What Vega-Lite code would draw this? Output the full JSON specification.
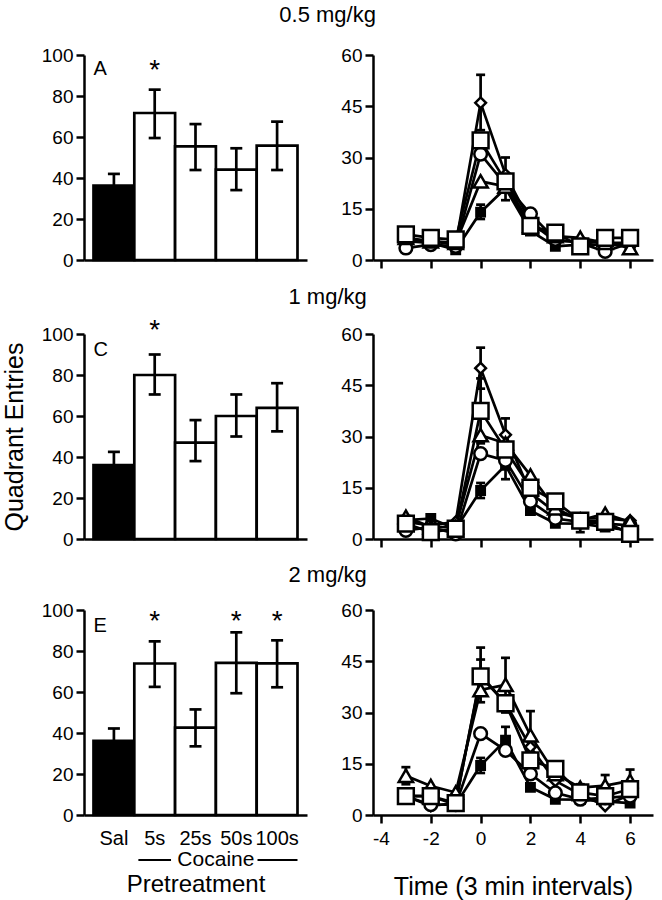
{
  "$schema": "https://vega.github.io/schema/vega-lite/v6.json",
  "padding": {"left": 2, "top": 4, "right": 5, "bottom": 2},
  "background": "white",
  "config": {
    "font": "Liberation Sans",
    "view": {"stroke": null},
    "title": {"fontSize": 22, "fontWeight": "normal", "anchor": "middle", "offset": 16, "color": "black"},
    "axis": {"domainColor": "black", "domainWidth": 2.5, "tickColor": "black", "tickWidth": 2.5, "tickSize": 8,
             "labelFontSize": 19, "labelColor": "black", "labelPadding": 3, "titleFontSize": 25, "titleFontWeight": "normal",
             "titleColor": "black", "grid": false}
  },
  "datasets": {
    "bars": [
      {"panel": "A", "group": "Sal", "mean": 36.3, "lo": 30.6, "hi": 42, "sig": false},
      {"panel": "A", "group": "5s", "mean": 71.7, "lo": 59.5, "hi": 83.1, "sig": true},
      {"panel": "A", "group": "25s", "mean": 55.4, "lo": 43.9, "hi": 66.3, "sig": false},
      {"panel": "A", "group": "50s", "mean": 44.1, "lo": 34.1, "hi": 54.5, "sig": false},
      {"panel": "A", "group": "100s", "mean": 55.8, "lo": 43.9, "hi": 67.5, "sig": false},
      {"panel": "C", "group": "Sal", "mean": 36, "lo": 29.5, "hi": 42.5, "sig": false},
      {"panel": "C", "group": "5s", "mean": 80, "lo": 70.5, "hi": 90, "sig": true},
      {"panel": "C", "group": "25s", "mean": 47, "lo": 38, "hi": 58, "sig": false},
      {"panel": "C", "group": "50s", "mean": 60, "lo": 50, "hi": 70.5, "sig": false},
      {"panel": "C", "group": "100s", "mean": 64, "lo": 52.5, "hi": 76, "sig": false},
      {"panel": "E", "group": "Sal", "mean": 36.2, "lo": 30.2, "hi": 42.2, "sig": false},
      {"panel": "E", "group": "5s", "mean": 73.9, "lo": 62.5, "hi": 84.7, "sig": true},
      {"panel": "E", "group": "25s", "mean": 42.6, "lo": 33.5, "hi": 51.5, "sig": false},
      {"panel": "E", "group": "50s", "mean": 74.2, "lo": 59.4, "hi": 89.1, "sig": true},
      {"panel": "E", "group": "100s", "mean": 74, "lo": 62.3, "hi": 85.2, "sig": true}
    ],
    "lines": [
      {"panel": "B", "group": "Sal", "t": -3, "mean": 5.5},
      {"panel": "B", "group": "Sal", "t": -2, "mean": 5},
      {"panel": "B", "group": "Sal", "t": -1, "mean": 3},
      {"panel": "B", "group": "Sal", "t": 0, "mean": 14, "lo": 12, "hi": 16.2},
      {"panel": "B", "group": "Sal", "t": 1, "mean": 21, "lo": 17.5, "hi": 24.5},
      {"panel": "B", "group": "Sal", "t": 2, "mean": 8.5},
      {"panel": "B", "group": "Sal", "t": 3, "mean": 4},
      {"panel": "B", "group": "Sal", "t": 4, "mean": 4.5},
      {"panel": "B", "group": "Sal", "t": 5, "mean": 4.5},
      {"panel": "B", "group": "Sal", "t": 6, "mean": 4.5},
      {"panel": "B", "group": "5s", "t": -3, "mean": 6},
      {"panel": "B", "group": "5s", "t": -2, "mean": 5.5},
      {"panel": "B", "group": "5s", "t": -1, "mean": 4.5},
      {"panel": "B", "group": "5s", "t": 0, "mean": 46, "lo": 38, "hi": 54.2},
      {"panel": "B", "group": "5s", "t": 1, "mean": 25, "lo": 20, "hi": 30},
      {"panel": "B", "group": "5s", "t": 2, "mean": 11},
      {"panel": "B", "group": "5s", "t": 3, "mean": 5.5},
      {"panel": "B", "group": "5s", "t": 4, "mean": 5.5},
      {"panel": "B", "group": "5s", "t": 5, "mean": 5},
      {"panel": "B", "group": "5s", "t": 6, "mean": 5},
      {"panel": "B", "group": "25s", "t": -3, "mean": 3.5},
      {"panel": "B", "group": "25s", "t": -2, "mean": 4.5},
      {"panel": "B", "group": "25s", "t": -1, "mean": 4},
      {"panel": "B", "group": "25s", "t": 0, "mean": 31},
      {"panel": "B", "group": "25s", "t": 1, "mean": 22},
      {"panel": "B", "group": "25s", "t": 2, "mean": 13.5},
      {"panel": "B", "group": "25s", "t": 3, "mean": 6},
      {"panel": "B", "group": "25s", "t": 4, "mean": 5},
      {"panel": "B", "group": "25s", "t": 5, "mean": 2.5},
      {"panel": "B", "group": "25s", "t": 6, "mean": 5},
      {"panel": "B", "group": "50s", "t": -3, "mean": 6.5},
      {"panel": "B", "group": "50s", "t": -2, "mean": 5.5},
      {"panel": "B", "group": "50s", "t": -1, "mean": 5},
      {"panel": "B", "group": "50s", "t": 0, "mean": 23},
      {"panel": "B", "group": "50s", "t": 1, "mean": 21.5},
      {"panel": "B", "group": "50s", "t": 2, "mean": 10},
      {"panel": "B", "group": "50s", "t": 3, "mean": 7},
      {"panel": "B", "group": "50s", "t": 4, "mean": 6.5},
      {"panel": "B", "group": "50s", "t": 5, "mean": 5},
      {"panel": "B", "group": "50s", "t": 6, "mean": 3.5},
      {"panel": "B", "group": "100s", "t": -3, "mean": 7.5},
      {"panel": "B", "group": "100s", "t": -2, "mean": 6.5},
      {"panel": "B", "group": "100s", "t": -1, "mean": 6},
      {"panel": "B", "group": "100s", "t": 0, "mean": 35},
      {"panel": "B", "group": "100s", "t": 1, "mean": 23},
      {"panel": "B", "group": "100s", "t": 2, "mean": 10},
      {"panel": "B", "group": "100s", "t": 3, "mean": 8},
      {"panel": "B", "group": "100s", "t": 4, "mean": 4},
      {"panel": "B", "group": "100s", "t": 5, "mean": 6.5},
      {"panel": "B", "group": "100s", "t": 6, "mean": 6.5},

      {"panel": "D", "group": "Sal", "t": -3, "mean": 5.5},
      {"panel": "D", "group": "Sal", "t": -2, "mean": 6},
      {"panel": "D", "group": "Sal", "t": -1, "mean": 3},
      {"panel": "D", "group": "Sal", "t": 0, "mean": 14.2, "lo": 12, "hi": 16.4},
      {"panel": "D", "group": "Sal", "t": 1, "mean": 21.6, "lo": 17.5, "hi": 26},
      {"panel": "D", "group": "Sal", "t": 2, "mean": 8.3},
      {"panel": "D", "group": "Sal", "t": 3, "mean": 4.6},
      {"panel": "D", "group": "Sal", "t": 4, "mean": 4.5, "lo": 2, "hi": 6},
      {"panel": "D", "group": "Sal", "t": 5, "mean": 3.5},
      {"panel": "D", "group": "Sal", "t": 6, "mean": 2.5},
      {"panel": "D", "group": "5s", "t": -3, "mean": 5},
      {"panel": "D", "group": "5s", "t": -2, "mean": 4},
      {"panel": "D", "group": "5s", "t": -1, "mean": 5},
      {"panel": "D", "group": "5s", "t": 0, "mean": 50, "lo": 44, "hi": 56},
      {"panel": "D", "group": "5s", "t": 1, "mean": 30.5, "lo": 26, "hi": 35.3},
      {"panel": "D", "group": "5s", "t": 2, "mean": 13.5},
      {"panel": "D", "group": "5s", "t": 3, "mean": 7.8},
      {"panel": "D", "group": "5s", "t": 4, "mean": 6},
      {"panel": "D", "group": "5s", "t": 5, "mean": 6},
      {"panel": "D", "group": "5s", "t": 6, "mean": 5.4},
      {"panel": "D", "group": "25s", "t": -3, "mean": 2.5},
      {"panel": "D", "group": "25s", "t": -2, "mean": 3.5},
      {"panel": "D", "group": "25s", "t": -1, "mean": 1.5},
      {"panel": "D", "group": "25s", "t": 0, "mean": 25},
      {"panel": "D", "group": "25s", "t": 1, "mean": 23},
      {"panel": "D", "group": "25s", "t": 2, "mean": 11},
      {"panel": "D", "group": "25s", "t": 3, "mean": 6},
      {"panel": "D", "group": "25s", "t": 4, "mean": 5},
      {"panel": "D", "group": "25s", "t": 5, "mean": 4.5},
      {"panel": "D", "group": "25s", "t": 6, "mean": 4},
      {"panel": "D", "group": "50s", "t": -3, "mean": 6.5},
      {"panel": "D", "group": "50s", "t": -2, "mean": 3.5},
      {"panel": "D", "group": "50s", "t": -1, "mean": 3.5},
      {"panel": "D", "group": "50s", "t": 0, "mean": 30.4},
      {"panel": "D", "group": "50s", "t": 1, "mean": 28},
      {"panel": "D", "group": "50s", "t": 2, "mean": 18.6},
      {"panel": "D", "group": "50s", "t": 3, "mean": 9},
      {"panel": "D", "group": "50s", "t": 4, "mean": 5.5},
      {"panel": "D", "group": "50s", "t": 5, "mean": 7.4},
      {"panel": "D", "group": "50s", "t": 6, "mean": 5},
      {"panel": "D", "group": "100s", "t": -3, "mean": 4.5},
      {"panel": "D", "group": "100s", "t": -2, "mean": 2},
      {"panel": "D", "group": "100s", "t": -1, "mean": 3},
      {"panel": "D", "group": "100s", "t": 0, "mean": 37.5, "lo": 28, "hi": 47},
      {"panel": "D", "group": "100s", "t": 1, "mean": 26.2},
      {"panel": "D", "group": "100s", "t": 2, "mean": 15},
      {"panel": "D", "group": "100s", "t": 3, "mean": 11, "lo": 9.5, "hi": 12.5},
      {"panel": "D", "group": "100s", "t": 4, "mean": 5.4},
      {"panel": "D", "group": "100s", "t": 5, "mean": 5},
      {"panel": "D", "group": "100s", "t": 6, "mean": 1.5},

      {"panel": "F", "group": "Sal", "t": -3, "mean": 5.6},
      {"panel": "F", "group": "Sal", "t": -2, "mean": 5.5},
      {"panel": "F", "group": "Sal", "t": -1, "mean": 3},
      {"panel": "F", "group": "Sal", "t": 0, "mean": 14.5, "lo": 12.3, "hi": 16.7},
      {"panel": "F", "group": "Sal", "t": 1, "mean": 21.9, "lo": 18, "hi": 25.8},
      {"panel": "F", "group": "Sal", "t": 2, "mean": 8.1},
      {"panel": "F", "group": "Sal", "t": 3, "mean": 4.6},
      {"panel": "F", "group": "Sal", "t": 4, "mean": 4.5},
      {"panel": "F", "group": "Sal", "t": 5, "mean": 4},
      {"panel": "F", "group": "Sal", "t": 6, "mean": 3.5},
      {"panel": "F", "group": "5s", "t": -3, "mean": 5.5},
      {"panel": "F", "group": "5s", "t": -2, "mean": 2.7},
      {"panel": "F", "group": "5s", "t": -1, "mean": 3.5},
      {"panel": "F", "group": "5s", "t": 0, "mean": 41, "lo": 33, "hi": 49},
      {"panel": "F", "group": "5s", "t": 1, "mean": 32.7},
      {"panel": "F", "group": "5s", "t": 2, "mean": 19.9},
      {"panel": "F", "group": "5s", "t": 3, "mean": 10},
      {"panel": "F", "group": "5s", "t": 4, "mean": 6},
      {"panel": "F", "group": "5s", "t": 5, "mean": 2.7},
      {"panel": "F", "group": "5s", "t": 6, "mean": 6},
      {"panel": "F", "group": "25s", "t": -3, "mean": 5.5},
      {"panel": "F", "group": "25s", "t": -2, "mean": 3},
      {"panel": "F", "group": "25s", "t": -1, "mean": 3},
      {"panel": "F", "group": "25s", "t": 0, "mean": 23.8},
      {"panel": "F", "group": "25s", "t": 1, "mean": 18.9},
      {"panel": "F", "group": "25s", "t": 2, "mean": 12},
      {"panel": "F", "group": "25s", "t": 3, "mean": 6.5},
      {"panel": "F", "group": "25s", "t": 4, "mean": 4.6},
      {"panel": "F", "group": "25s", "t": 5, "mean": 5},
      {"panel": "F", "group": "25s", "t": 6, "mean": 5.5},
      {"panel": "F", "group": "50s", "t": -3, "mean": 11.5, "lo": 9, "hi": 14},
      {"panel": "F", "group": "50s", "t": -2, "mean": 8.5},
      {"panel": "F", "group": "50s", "t": -1, "mean": 6.6},
      {"panel": "F", "group": "50s", "t": 0, "mean": 36.6},
      {"panel": "F", "group": "50s", "t": 1, "mean": 38.1, "lo": 30, "hi": 46},
      {"panel": "F", "group": "50s", "t": 2, "mean": 23.3, "lo": 16, "hi": 30.4},
      {"panel": "F", "group": "50s", "t": 3, "mean": 12},
      {"panel": "F", "group": "50s", "t": 4, "mean": 8},
      {"panel": "F", "group": "50s", "t": 5, "mean": 8.6, "lo": 5.5, "hi": 11.7},
      {"panel": "F", "group": "50s", "t": 6, "mean": 10, "lo": 6.7, "hi": 13.3},
      {"panel": "F", "group": "100s", "t": -3, "mean": 5.5},
      {"panel": "F", "group": "100s", "t": -2, "mean": 5.5},
      {"panel": "F", "group": "100s", "t": -1, "mean": 3.5},
      {"panel": "F", "group": "100s", "t": 0, "mean": 40.6, "lo": 36, "hi": 45.5},
      {"panel": "F", "group": "100s", "t": 1, "mean": 32.7},
      {"panel": "F", "group": "100s", "t": 2, "mean": 16},
      {"panel": "F", "group": "100s", "t": 3, "mean": 13.5, "lo": 12, "hi": 15},
      {"panel": "F", "group": "100s", "t": 4, "mean": 6.6, "lo": 5.5, "hi": 9},
      {"panel": "F", "group": "100s", "t": 5, "mean": 5.5},
      {"panel": "F", "group": "100s", "t": 6, "mean": 7.6}
    ]
  },
  "spacing": 15,
  "vconcat": [
    {
      "title": {"text": "0.5 mg/kg", "offset": 19},
      "spacing": 33,
      "hconcat": [
        {
          "width": 223, "height": 205,
          "data": {"name": "bars"},
          "transform": [{"filter": "datum.panel === 'A'"}],
          "encoding": {"x": {"field": "group", "type": "nominal", "sort": ["Sal", "5s", "25s", "50s", "100s"], "scale": {"paddingInner": 0, "paddingOuter": 0.233}, "axis": {"labels": false, "ticks": false, "title": null}}},
          "layer": [
            {"mark": {"type": "bar", "stroke": "black", "strokeWidth": 2.7, "opacity": 1},
             "encoding": {"y": {"field": "mean", "type": "quantitative", "scale": {"domain": [0, 100]}, "axis": {"values": [0, 20, 40, 60, 80, 100], "title": "Quadrant Entries", "titleOpacity": 0, "titlePadding": 14}},
                          "fill": {"field": "group", "type": "nominal", "scale": {"domain": ["Sal", "5s", "25s", "50s", "100s"], "range": ["black", "white", "white", "white", "white"]}, "legend": null}}},
            {"mark": {"type": "rule", "color": "black", "strokeWidth": 2.7}, "encoding": {"y": {"field": "lo", "type": "quantitative"}, "y2": {"field": "hi"}}},
            {"mark": {"type": "tick", "orient": "horizontal", "size": 12, "thickness": 2.7, "color": "black", "opacity": 1}, "encoding": {"y": {"field": "hi", "type": "quantitative"}}},
            {"mark": {"type": "tick", "orient": "horizontal", "size": 12, "thickness": 2.7, "color": "black", "opacity": 1}, "encoding": {"y": {"field": "lo", "type": "quantitative"}}},
            {"transform": [{"filter": "datum.sig"}], "mark": {"type": "text", "text": "*", "fontSize": 28, "baseline": "middle", "color": "black"}, "encoding": {"y": {"datum": 92}}},
            {"data": {"values": [{"panel": "A", "label": "A"}]}, "mark": {"type": "text", "fontSize": 20, "align": "left", "baseline": "middle", "color": "black"},
             "encoding": {"text": {"field": "label"}, "x": {"datum": "Sal", "bandPosition": 0}, "y": {"datum": 93.4}}}
          ]
        },
        {
          "width": 280, "height": 205,
          "data": {"name": "lines"},
          "transform": [{"filter": "datum.panel === 'B'"}],
          "encoding": {
            "x": {"field": "t", "type": "quantitative", "scale": {"domain": [-4.32, 6.92], "nice": false, "zero": false}, "axis": {"values": [-4, -2, 0, 2, 4, 6], "labels": false, "title": null}},
            "y": {"field": "mean", "type": "quantitative", "scale": {"domain": [0, 60], "nice": false}, "axis": {"values": [0, 15, 30, 45, 60], "title": null}}
          },
          "layer": [
            {"mark": {"type": "line", "color": "black", "strokeWidth": 2.7}, "encoding": {"detail": {"field": "group"}}},
            {"mark": {"type": "rule", "color": "black", "strokeWidth": 2.7}, "encoding": {"y": {"field": "lo", "type": "quantitative"}, "y2": {"field": "hi"}}},
            {"mark": {"type": "tick", "orient": "horizontal", "size": 9, "thickness": 2.7, "color": "black", "opacity": 1}, "encoding": {"y": {"field": "hi", "type": "quantitative"}}},
            {"mark": {"type": "tick", "orient": "horizontal", "size": 9, "thickness": 2.7, "color": "black", "opacity": 1}, "encoding": {"y": {"field": "lo", "type": "quantitative"}}},
            {"mark": {"type": "point", "filled": true, "stroke": "black", "strokeWidth": 2.5, "opacity": 1},
             "encoding": {
               "shape": {"field": "group", "type": "nominal", "scale": {"domain": ["Sal", "5s", "25s", "50s", "100s"], "range": ["square", "diamond", "circle", "triangle-up", "square"]}, "legend": null},
               "fill": {"field": "group", "type": "nominal", "scale": {"domain": ["Sal", "5s", "25s", "50s", "100s"], "range": ["black", "white", "white", "white", "white"]}, "legend": null},
               "size": {"field": "group", "type": "nominal", "scale": {"domain": ["Sal", "5s", "25s", "50s", "100s"], "range": [70, 250, 115, 150, 95]}, "legend": null}}},
            {"data": {"values": [{"panel": "B", "label": "B"}]}, "mark": {"type": "text", "fontSize": 20, "align": "left", "baseline": "middle", "color": "black"},
             "encoding": {"text": {"field": "label"}, "x": {"datum": -3.76}, "y": {"datum": 54.8}}}
          ]
        }
      ]
    },
    {
      "title": {"text": "1 mg/kg", "offset": 8},
      "spacing": 33,
      "hconcat": [
        {
          "width": 223, "height": 205,
          "data": {"name": "bars"},
          "transform": [{"filter": "datum.panel === 'C'"}],
          "encoding": {"x": {"field": "group", "type": "nominal", "sort": ["Sal", "5s", "25s", "50s", "100s"], "scale": {"paddingInner": 0, "paddingOuter": 0.233}, "axis": {"labels": false, "ticks": false, "title": null}}},
          "layer": [
            {"mark": {"type": "bar", "stroke": "black", "strokeWidth": 2.7, "opacity": 1},
             "encoding": {"y": {"field": "mean", "type": "quantitative", "scale": {"domain": [0, 100]}, "axis": {"values": [0, 20, 40, 60, 80, 100], "title": "Quadrant Entries", "titleOpacity": 1, "titlePadding": 14}},
                          "fill": {"field": "group", "type": "nominal", "scale": {"domain": ["Sal", "5s", "25s", "50s", "100s"], "range": ["black", "white", "white", "white", "white"]}, "legend": null}}},
            {"mark": {"type": "rule", "color": "black", "strokeWidth": 2.7}, "encoding": {"y": {"field": "lo", "type": "quantitative"}, "y2": {"field": "hi"}}},
            {"mark": {"type": "tick", "orient": "horizontal", "size": 12, "thickness": 2.7, "color": "black", "opacity": 1}, "encoding": {"y": {"field": "hi", "type": "quantitative"}}},
            {"mark": {"type": "tick", "orient": "horizontal", "size": 12, "thickness": 2.7, "color": "black", "opacity": 1}, "encoding": {"y": {"field": "lo", "type": "quantitative"}}},
            {"transform": [{"filter": "datum.sig"}], "mark": {"type": "text", "text": "*", "fontSize": 28, "baseline": "middle", "color": "black"}, "encoding": {"y": {"datum": 101.7}}},
            {"data": {"values": [{"panel": "C", "label": "C"}]}, "mark": {"type": "text", "fontSize": 20, "align": "left", "baseline": "middle", "color": "black"},
             "encoding": {"text": {"field": "label"}, "x": {"datum": "Sal", "bandPosition": 0}, "y": {"datum": 92}}}
          ]
        },
        {
          "width": 280, "height": 205,
          "data": {"name": "lines"},
          "transform": [{"filter": "datum.panel === 'D'"}],
          "encoding": {
            "x": {"field": "t", "type": "quantitative", "scale": {"domain": [-4.32, 6.92], "nice": false, "zero": false}, "axis": {"values": [-4, -2, 0, 2, 4, 6], "labels": false, "title": null}},
            "y": {"field": "mean", "type": "quantitative", "scale": {"domain": [0, 60], "nice": false}, "axis": {"values": [0, 15, 30, 45, 60], "title": null}}
          },
          "layer": [
            {"mark": {"type": "line", "color": "black", "strokeWidth": 2.7}, "encoding": {"detail": {"field": "group"}}},
            {"mark": {"type": "rule", "color": "black", "strokeWidth": 2.7}, "encoding": {"y": {"field": "lo", "type": "quantitative"}, "y2": {"field": "hi"}}},
            {"mark": {"type": "tick", "orient": "horizontal", "size": 9, "thickness": 2.7, "color": "black", "opacity": 1}, "encoding": {"y": {"field": "hi", "type": "quantitative"}}},
            {"mark": {"type": "tick", "orient": "horizontal", "size": 9, "thickness": 2.7, "color": "black", "opacity": 1}, "encoding": {"y": {"field": "lo", "type": "quantitative"}}},
            {"mark": {"type": "point", "filled": true, "stroke": "black", "strokeWidth": 2.5, "opacity": 1},
             "encoding": {
               "shape": {"field": "group", "type": "nominal", "scale": {"domain": ["Sal", "5s", "25s", "50s", "100s"], "range": ["square", "diamond", "circle", "triangle-up", "square"]}, "legend": null},
               "fill": {"field": "group", "type": "nominal", "scale": {"domain": ["Sal", "5s", "25s", "50s", "100s"], "range": ["black", "white", "white", "white", "white"]}, "legend": null},
               "size": {"field": "group", "type": "nominal", "scale": {"domain": ["Sal", "5s", "25s", "50s", "100s"], "range": [70, 250, 115, 150, 95]}, "legend": null}}},
            {"data": {"values": [{"panel": "D", "label": "D"}]}, "mark": {"type": "text", "fontSize": 20, "align": "left", "baseline": "middle", "color": "black"},
             "encoding": {"text": {"field": "label"}, "x": {"datum": -3.76}, "y": {"datum": 54.8}}}
          ]
        }
      ]
    },
    {
      "title": {"text": "2 mg/kg", "offset": 14},
      "spacing": 33,
      "hconcat": [
        {
          "width": 223, "height": 205,
          "data": {"name": "bars"},
          "transform": [{"filter": "datum.panel === 'E'"}],
          "encoding": {"x": {"field": "group", "type": "nominal", "sort": ["Sal", "5s", "25s", "50s", "100s"], "scale": {"paddingInner": 0, "paddingOuter": 0.233}, "axis": {"labels": true, "labelAngle": 0, "labelFontSize": 20, "ticks": false, "labelPadding": 13, "title": "Pretreatment", "titleFontSize": 24, "titlePadding": 24}}},
          "layer": [
            {"mark": {"type": "bar", "stroke": "black", "strokeWidth": 2.7, "opacity": 1},
             "encoding": {"y": {"field": "mean", "type": "quantitative", "scale": {"domain": [0, 100]}, "axis": {"values": [0, 20, 40, 60, 80, 100], "title": "Quadrant Entries", "titleOpacity": 0, "titlePadding": 14}},
                          "fill": {"field": "group", "type": "nominal", "scale": {"domain": ["Sal", "5s", "25s", "50s", "100s"], "range": ["black", "white", "white", "white", "white"]}, "legend": null}}},
            {"mark": {"type": "rule", "color": "black", "strokeWidth": 2.7}, "encoding": {"y": {"field": "lo", "type": "quantitative"}, "y2": {"field": "hi"}}},
            {"mark": {"type": "tick", "orient": "horizontal", "size": 12, "thickness": 2.7, "color": "black", "opacity": 1}, "encoding": {"y": {"field": "hi", "type": "quantitative"}}},
            {"mark": {"type": "tick", "orient": "horizontal", "size": 12, "thickness": 2.7, "color": "black", "opacity": 1}, "encoding": {"y": {"field": "lo", "type": "quantitative"}}},
            {"transform": [{"filter": "datum.sig"}], "mark": {"type": "text", "text": "*", "fontSize": 28, "baseline": "middle", "color": "black"}, "encoding": {"y": {"datum": 94}}},
            {"data": {"values": [{"panel": "E", "label": "E"}]}, "mark": {"type": "text", "fontSize": 20, "align": "left", "baseline": "middle", "color": "black"},
             "encoding": {"text": {"field": "label"}, "x": {"datum": "Sal", "bandPosition": 0}, "y": {"datum": 92}}},
            {"data": {"values": [{"panel": "E", "label": "Cocaine"}]}, "mark": {"type": "text", "fontSize": 21, "align": "center", "baseline": "middle", "color": "black"},
             "encoding": {"text": {"field": "label"}, "x": {"datum": "50s", "bandPosition": 0}, "y": {"datum": -22}}},
            {"data": {"values": [{"panel": "E"}]}, "mark": {"type": "rule", "color": "black", "strokeWidth": 2},
             "encoding": {"x": {"datum": "5s", "bandPosition": 0.1}, "x2": {"datum": "5s", "bandPosition": 0.9}, "y": {"datum": -22}}},
            {"data": {"values": [{"panel": "E"}]}, "mark": {"type": "rule", "color": "black", "strokeWidth": 2},
             "encoding": {"x": {"datum": "100s", "bandPosition": 0.02}, "x2": {"datum": "100s", "bandPosition": 1}, "y": {"datum": -22}}}
          ]
        },
        {
          "width": 280, "height": 205,
          "data": {"name": "lines"},
          "transform": [{"filter": "datum.panel === 'F'"}],
          "encoding": {
            "x": {"field": "t", "type": "quantitative", "scale": {"domain": [-4.32, 6.92], "nice": false, "zero": false}, "axis": {"values": [-4, -2, 0, 2, 4, 6], "labels": true, "labelPadding": 6, "labelExpr": "replace(datum.label, '\u2212', '-')", "title": "Time (3 min intervals)", "titlePadding": 26}},
            "y": {"field": "mean", "type": "quantitative", "scale": {"domain": [0, 60], "nice": false}, "axis": {"values": [0, 15, 30, 45, 60], "title": null}}
          },
          "layer": [
            {"mark": {"type": "line", "color": "black", "strokeWidth": 2.7}, "encoding": {"detail": {"field": "group"}}},
            {"mark": {"type": "rule", "color": "black", "strokeWidth": 2.7}, "encoding": {"y": {"field": "lo", "type": "quantitative"}, "y2": {"field": "hi"}}},
            {"mark": {"type": "tick", "orient": "horizontal", "size": 9, "thickness": 2.7, "color": "black", "opacity": 1}, "encoding": {"y": {"field": "hi", "type": "quantitative"}}},
            {"mark": {"type": "tick", "orient": "horizontal", "size": 9, "thickness": 2.7, "color": "black", "opacity": 1}, "encoding": {"y": {"field": "lo", "type": "quantitative"}}},
            {"mark": {"type": "point", "filled": true, "stroke": "black", "strokeWidth": 2.5, "opacity": 1},
             "encoding": {
               "shape": {"field": "group", "type": "nominal", "scale": {"domain": ["Sal", "5s", "25s", "50s", "100s"], "range": ["square", "diamond", "circle", "triangle-up", "square"]}, "legend": null},
               "fill": {"field": "group", "type": "nominal", "scale": {"domain": ["Sal", "5s", "25s", "50s", "100s"], "range": ["black", "white", "white", "white", "white"]}, "legend": null},
               "size": {"field": "group", "type": "nominal", "scale": {"domain": ["Sal", "5s", "25s", "50s", "100s"], "range": [70, 250, 115, 150, 95]}, "legend": null}}},
            {"data": {"values": [{"panel": "F", "label": "F"}]}, "mark": {"type": "text", "fontSize": 20, "align": "left", "baseline": "middle", "color": "black"},
             "encoding": {"text": {"field": "label"}, "x": {"datum": -3.76}, "y": {"datum": 54.8}}}
          ]
        }
      ]
    }
  ]
}
